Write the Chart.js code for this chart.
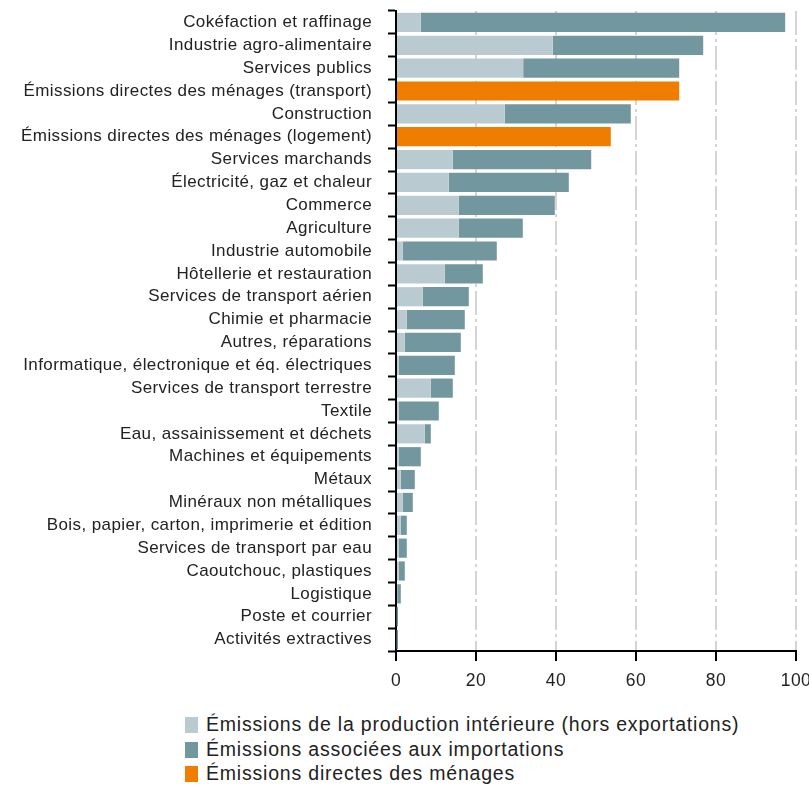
<!DOCTYPE html>
<html>
<head>
<meta charset="utf-8">
<script src="https://cdn.jsdelivr.net/npm/chart.js@4"></script>
<style>
  body { margin: 0; background: #fff; font-family: "Liberation Sans", Arial, sans-serif; }
  #wrap { position: relative; width: 809px; height: 700px; }
  #legend { position: absolute; left: 185px; top: 712px; font-size: 19.5px; letter-spacing: 0.8px; color: #222; }
  #legend div { height: 24.5px; line-height: 24.5px; white-space: nowrap; }
  #legend span { display: inline-block; width: 13px; height: 16px; margin-right: 8px; vertical-align: -2px; }
</style>
</head>
<body>
<div id="wrap"><canvas id="chart"></canvas></div>
<div id="legend"></div>
<script>
const categories = [
  'Cokéfaction et raffinage', 'Industrie agro-alimentaire', 'Services publics',
  'Émissions directes des ménages (transport)', 'Construction',
  'Émissions directes des ménages (logement)', 'Services marchands',
  'Électricité, gaz et chaleur', 'Commerce', 'Agriculture', 'Industrie automobile',
  'Hôtellerie et restauration', 'Services de transport aérien', 'Chimie et pharmacie',
  'Autres, réparations', 'Informatique, électronique et éq. électriques',
  'Services de transport terrestre', 'Textile', 'Eau, assainissement et déchets',
  'Machines et équipements', 'Métaux', 'Minéraux non métalliques',
  'Bois, papier, carton, imprimerie et édition', 'Services de transport par eau',
  'Caoutchouc, plastiques', 'Logistique', 'Poste et courrier', 'Activités extractives'
];
// production intérieure (hors exportations)
const domestic = [6.2, 39.2, 31.8, 0, 27.2, 0, 14.2, 13.2, 15.7, 15.7, 1.7, 12.2, 6.7, 2.7,
  2.2, 0.7, 8.7, 0.7, 7.2, 0.7, 1.2, 1.7, 1.2, 0.7, 0.7, 0.3, 0.2, 0.2];
// importations
const imports = [91.1, 37.6, 39.0, 0, 31.5, 0, 34.6, 30.0, 24.0, 16.0, 23.5, 9.5, 11.5, 14.5,
  14.0, 14.0, 5.5, 10.0, 1.5, 5.5, 3.5, 2.5, 1.5, 2.0, 1.5, 0.9, 0.3, 0.3];
// émissions directes des ménages
const households = [0, 0, 0, 70.8, 0, 53.7, 0, 0, 0, 0, 0, 0, 0, 0,
  0, 0, 0, 0, 0, 0, 0, 0, 0, 0, 0, 0, 0, 0];
const xTicks = [0, 20, 40, 60, 80, 100];

const seriesNames = [
  'Émissions de la production intérieure (hors exportations)',
  'Émissions associées aux importations',
  'Émissions directes des ménages'
];
const colors = ['#b9cbd1', '#72979f', '#ef7d00'];

// texte un peu plus large comme sur l'original
const spacing = {
  id: 'spacing',
  beforeLayout: c => { c.ctx.letterSpacing = '0.4px'; },
  beforeDraw: c => { c.ctx.letterSpacing = '0.4px'; }
};

const ctx = document.getElementById('chart');
new Chart(ctx, {
  type: 'bar',
  data: {
    labels: categories,
    datasets: [domestic, imports, households].map((d, i) => ({
      label: seriesNames[i],
      data: d,
      backgroundColor: colors[i],
      borderWidth: 0,
      barPercentage: 0.84,
      categoryPercentage: 1
    }))
  },
  plugins: [spacing],
  options: {
    indexAxis: 'y',
    responsive: true,
    maintainAspectRatio: false,
    animation: false,
    layout: { padding: { top: 11, right: 13, left: 0, bottom: 0 } },
    plugins: { legend: { display: false }, tooltip: { enabled: false } },
    scales: {
      x: {
        stacked: true,
        min: 0, max: 100,
        afterBuildTicks: s => { s.ticks = xTicks.map(v => ({ value: v })); },
        afterFit: s => { s.height = 49; s.paddingLeft = 0; s.paddingRight = 0; },
        border: { color: '#000', width: 2, dash: [24, 4, 3, 4] },
        grid: { color: '#d4d4d4', lineWidth: 2, tickColor: '#000', tickWidth: 2, tickLength: 10 },
        ticks: { color: '#222', font: { family: 'Liberation Sans', size: 17.5 }, padding: 10 }
      },
      y: {
        stacked: true,
        afterFit: s => { s.width = 396; s.paddingTop = 0; s.paddingBottom = 0; },
        border: { color: '#000', width: 2 },
        grid: { drawOnChartArea: false, tickColor: '#000', tickLength: 8, tickWidth: 2, offset: true },
        ticks: { color: '#222', font: { family: 'Liberation Sans', size: 17 }, padding: 16, autoSkip: false }
      }
    }
  }
});

const legend = document.getElementById('legend');
seriesNames.forEach((n, i) => {
  const row = document.createElement('div');
  row.innerHTML = '<span style="background:' + colors[i] + '"></span>' + n;
  legend.appendChild(row);
});
</script>
</body>
</html>
